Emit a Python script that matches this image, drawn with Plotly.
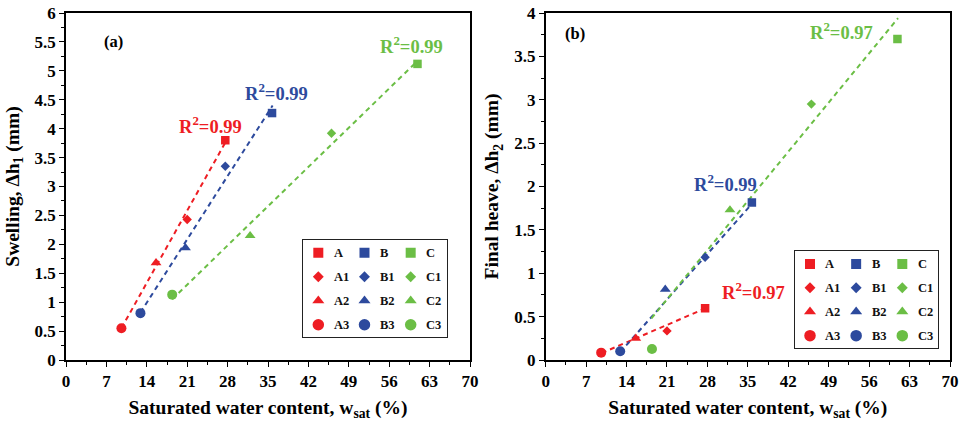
import plotly.graph_objects as go

# ---------------- data ----------------
samples_A = ["A", "A1", "A2", "A3"]
samples_B = ["B", "B1", "B2", "B3"]
samples_C = ["C", "C1", "C2", "C3"]

wsat_A = [27.6, 21.0, 15.6, 9.6]
wsat_B = [35.7, 27.6, 20.7, 12.9]
wsat_C = [60.9, 46.0, 31.9, 18.4]

swell_A = [3.80, 2.43, 1.68, 0.55]
swell_B = [4.27, 3.35, 1.94, 0.81]
swell_C = [5.12, 3.92, 2.15, 1.13]

heave_A = [0.596, 0.335, 0.25, 0.085]
heave_B = [1.815, 1.185, 0.815, 0.10]
heave_C = [3.70, 2.95, 1.73, 0.127]

# fitted trend lines (end points)
fit_a_A_x, fit_a_A_y = [9.6, 27.6], [0.55, 3.76]
fit_a_B_x, fit_a_B_y = [12.9, 35.8], [0.82, 4.40]
fit_a_C_x, fit_a_C_y = [18.4, 60.9], [1.05, 5.17]
fit_b_A_x, fit_b_A_y = [9.7, 27.6], [0.08, 0.594]
fit_b_B_x, fit_b_B_y = [12.9, 35.7], [0.09, 1.80]
fit_b_C_x, fit_b_C_y = [18.3, 61.0], [0.48, 3.94]

r2_a = {"A": "0.99", "B": "0.99", "C": "0.99"}
r2_b = {"A": "0.97", "B": "0.99", "C": "0.97"}

x_ticks = [0, 7, 14, 21, 28, 35, 42, 49, 56, 63, 70]

# ---------------- styles ----------------
RED, BLUE, GREEN = "#EE1D23", "#2D4A9D", "#6BBE45"
colors = {"A": RED, "B": BLUE, "C": GREEN}
symbols = ["square", "diamond", "triangle-up", "circle"]
sizes = [8.5, 7.2, 9.5, 10]
leg_sizes = [10, 8.4, 10.5, 11.5]
FONT = "Liberation Serif"

fig = go.Figure()

groups = [
    ("A", samples_A, wsat_A, swell_A, heave_A, (fit_a_A_x, fit_a_A_y), (fit_b_A_x, fit_b_A_y)),
    ("B", samples_B, wsat_B, swell_B, heave_B, (fit_a_B_x, fit_a_B_y), (fit_b_B_x, fit_b_B_y)),
    ("C", samples_C, wsat_C, swell_C, heave_C, (fit_a_C_x, fit_a_C_y), (fit_b_C_x, fit_b_C_y)),
]

# trend lines first (below the markers)
for g, names, xs, ya, yb, fa, fb in groups:
    fig.add_trace(go.Scatter(x=fa[0], y=fa[1], mode="lines", xaxis="x", yaxis="y",
                             line=dict(color=colors[g], width=2, dash="5px,4px"),
                             showlegend=False, hoverinfo="skip"))
    fig.add_trace(go.Scatter(x=fb[0], y=fb[1], mode="lines", xaxis="x2", yaxis="y2",
                             line=dict(color=colors[g], width=2, dash="5px,4px"),
                             showlegend=False, hoverinfo="skip"))

for g, names, xs, ya, yb, fa, fb in groups:
    fig.add_trace(go.Scatter(x=xs, y=ya, mode="markers", xaxis="x", yaxis="y", text=names,
                             marker=dict(color=colors[g], symbol=symbols, size=sizes, opacity=1,
                                         line=dict(width=0)),
                             showlegend=False))
    fig.add_trace(go.Scatter(x=xs, y=yb, mode="markers", xaxis="x2", yaxis="y2", text=names,
                             marker=dict(color=colors[g], symbol=symbols, size=sizes, opacity=1,
                                         line=dict(width=0)),
                             showlegend=False))

# ---------------- hand-built legends (one per panel) ----------------
annotations = []
for (xa, ya_) in [("x3", "y3"), ("x4", "y4")]:
    for c, (g, names, *_rest) in enumerate(groups):
        fig.add_trace(go.Scatter(x=[c] * 4, y=list(range(4)), mode="markers",
                                 xaxis=xa, yaxis=ya_, hoverinfo="skip", showlegend=False,
                                 marker=dict(color=colors[g], symbol=symbols, size=leg_sizes,
                                             opacity=1, line=dict(width=0))))
        for r, nm in enumerate(names):
            annotations.append(dict(x=c + 0.29, y=r, xref=xa, yref=ya_, text=nm,
                                    showarrow=False, xanchor="left", yanchor="middle",
                                    font=dict(family=FONT, size=12.5, color="#111", weight="bold")))

# ---------------- R^2 labels and panel tags ----------------
r2_pos_a = {"A": (25.0, 4.06), "B": (36.4, 4.64), "C": (59.9, 5.45)}
r2_pos_b = {"A": (36.0, 0.79), "B": (31.2, 2.04), "C": (51.3, 3.79)}
for g in ["A", "B", "C"]:
    annotations.append(dict(x=r2_pos_a[g][0], y=r2_pos_a[g][1], xref="x", yref="y",
                            text="R<sup>2</sup>=" + r2_a[g], showarrow=False,
                            font=dict(family=FONT, size=18.5, color=colors[g], weight="bold")))
    annotations.append(dict(x=r2_pos_b[g][0], y=r2_pos_b[g][1], xref="x2", yref="y2",
                            text="R<sup>2</sup>=" + r2_b[g], showarrow=False,
                            font=dict(family=FONT, size=18.5, color=colors[g], weight="bold")))

annotations.append(dict(x=0.117, y=0.917, xref="x domain", yref="y domain", text="(a)",
                        xanchor="center", yanchor="middle", showarrow=False,
                        font=dict(family=FONT, size=16.5, color="black", weight="bold")))
annotations.append(dict(x=0.0725, y=0.942, xref="x2 domain", yref="y2 domain", text="(b)",
                        xanchor="center", yanchor="middle", showarrow=False,
                        font=dict(family=FONT, size=16.5, color="black", weight="bold")))

# ---------------- axes ----------------
tickfont = dict(family=FONT, size=17, color="black", weight="bold")
titlefont = dict(family=FONT, size=19.5, color="black", weight="bold")

def xaxis_cfg(domain):
    return dict(domain=domain, range=[0, 70], tickvals=x_ticks, ticks="outside", ticklen=5,
                tickwidth=1.2, tickcolor="black", automargin=False,
                minor=dict(dtick=3.5, tick0=0, ticks="outside", ticklen=3, tickwidth=1.2,
                           tickcolor="black"),
                showline=True, linecolor="black", linewidth=1.5, mirror=True,
                showgrid=False, zeroline=False, tickfont=tickfont,
                title=dict(text="Saturated water content, w<sub>sat</sub> (%)", font=titlefont,
                           standoff=10))

def yaxis_cfg(anchor, rng, title):
    return dict(anchor=anchor, domain=[0, 1], range=rng, dtick=0.5, tick0=0, ticks="outside",
                ticklen=5, tickwidth=1.2, tickcolor="black", automargin=False,
                minor=dict(dtick=0.25, tick0=0, ticks="outside", ticklen=3, tickwidth=1.2,
                           tickcolor="black"),
                showline=True, linecolor="black", linewidth=1.5, mirror=True,
                showgrid=False, zeroline=False, tickfont=tickfont,
                title=dict(text=title, font=titlefont, standoff=10))

W, H = 968, 423
ml, mr, mt, mb = 66, 18, 13, 63
pw, ph = W - ml - mr, H - mt - mb

def px_x(p):
    return (p - ml) / pw

def px_y(p):
    return (H - mb - p) / ph

leg_axis = dict(showline=True, linecolor="#222", linewidth=1, mirror=True, ticks="",
                showticklabels=False, showgrid=False, zeroline=False, fixedrange=True,
                automargin=False)

fig.update_layout(
    width=W, height=H, margin=dict(l=ml, r=mr, t=mt, b=mb, autoexpand=False),
    paper_bgcolor="white", plot_bgcolor="white",
    font=dict(family=FONT, color="black"),
    showlegend=False,
    xaxis=xaxis_cfg([0, px_x(470)]),
    yaxis=yaxis_cfg("x", [0, 6], "Swelling, Δh<sub>1</sub> (mm)"),
    xaxis2=dict(anchor="y2", **xaxis_cfg([px_x(545.7), 1])),
    yaxis2=yaxis_cfg("x2", [0, 4], "Final heave, Δh<sub>2</sub> (mm)"),
    xaxis3=dict(domain=[px_x(303.3), px_x(446.7)], anchor="y3", range=[-0.325, 2.78], **leg_axis),
    yaxis3=dict(domain=[px_y(336.7), px_y(240)], anchor="x3", range=[3.5, -0.53], **leg_axis),
    xaxis4=dict(domain=[px_x(795), px_x(938.3)], anchor="y4", range=[-0.325, 2.78], **leg_axis),
    yaxis4=dict(domain=[px_y(348.3), px_y(251)], anchor="x4", range=[3.53, -0.54], **leg_axis),
    annotations=annotations,
)

fig.write_html("out.html")
